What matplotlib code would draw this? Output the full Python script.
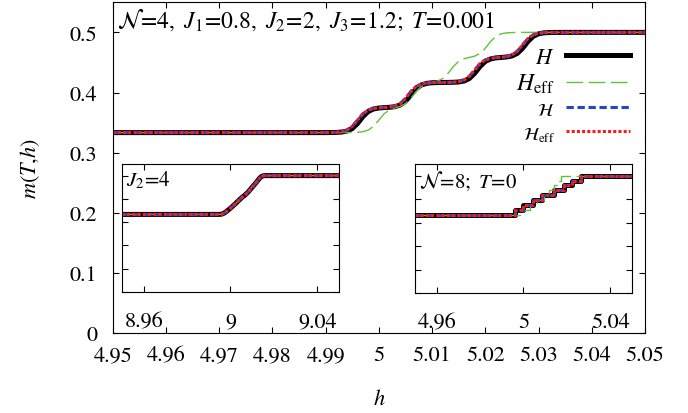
import matplotlib
matplotlib.use("Agg")
import matplotlib.pyplot as plt
from matplotlib.ticker import MultipleLocator, FixedLocator, FormatStrFormatter, NullFormatter

# magnetization curves m(T,h), N=4, J1=0.8, J2=2, J3=1.2, T=0.001
h_main = [4.950,
          4.990, 4.991, 4.992, 4.993, 4.994, 4.995, 4.996, 4.997, 4.998, 4.999,
          5.000, 5.001, 5.002, 5.003, 5.004, 5.005, 5.006, 5.007, 5.008, 5.009,
          5.010, 5.011, 5.012, 5.013, 5.014, 5.015, 5.016, 5.017, 5.018, 5.019,
          5.020, 5.021, 5.022, 5.023, 5.024, 5.025, 5.026, 5.027, 5.028, 5.029,
          5.030, 5.031, 5.032, 5.033, 5.034,
          5.050]
m_H = [0.3333,
       0.3333, 0.3334, 0.3336, 0.3342, 0.3358, 0.3400, 0.3485, 0.3598, 0.3684, 0.3726,
       0.3742, 0.3749, 0.3754, 0.3764, 0.3791, 0.3853, 0.3958, 0.4063, 0.4126, 0.4152,
       0.4162, 0.4165, 0.4167, 0.4168, 0.4170, 0.4175, 0.4191, 0.4233, 0.4319, 0.4431,
       0.4517, 0.4559, 0.4576, 0.4583, 0.4591, 0.4608, 0.4650, 0.4735, 0.4848, 0.4934,
       0.4976, 0.4992, 0.4997, 0.4999, 0.5000,
       0.5000]
m_Heff = [0.3333,
          0.3333, 0.3333, 0.3333, 0.3334, 0.3334, 0.3335, 0.3338, 0.3348, 0.3374, 0.3437,
          0.3542, 0.3647, 0.3712, 0.3744, 0.3769, 0.3815, 0.3902, 0.4015, 0.4101, 0.4145,
          0.4167, 0.4188, 0.4232, 0.4319, 0.4432, 0.4518, 0.4562, 0.4583, 0.4605, 0.4649,
          0.4735, 0.4848, 0.4934, 0.4976, 0.4992, 0.4997, 0.4999, 0.5000, 0.5000, 0.5000,
          0.5000, 0.5000, 0.5000, 0.5000, 0.5000,
          0.5000]
m_calH = [0.3333,
          0.3334, 0.3335, 0.3338, 0.3348, 0.3374, 0.3437, 0.3542, 0.3647, 0.3709, 0.3736,
          0.3746, 0.3751, 0.3758, 0.3774, 0.3816, 0.3902, 0.4015, 0.4100, 0.4142, 0.4158,
          0.4164, 0.4166, 0.4167, 0.4168, 0.4172, 0.4181, 0.4207, 0.4270, 0.4375, 0.4480,
          0.4543, 0.4569, 0.4580, 0.4587, 0.4597, 0.4624, 0.4687, 0.4792, 0.4897, 0.4959,
          0.4986, 0.4995, 0.4998, 0.4999, 0.5000,
          0.5000]
m_calHeff = m_calH

# inset: J2=4 near h=9
h_j2 = [8.950, 8.9950, 8.9960, 8.9970, 8.9980, 9.0000, 9.0020, 9.0040, 9.0055,
        9.0065, 9.0080, 9.0100, 9.0120, 9.0135, 9.0145, 9.0155, 9.050]
m_j2 = [0.3333, 0.3334, 0.3345, 0.3385, 0.3450, 0.3600, 0.3770, 0.3950, 0.4080,
        0.4150, 0.4280, 0.4500, 0.4720, 0.4900, 0.4975, 0.5000, 0.5000]
m_j2_eff = [0.3333, 0.3334, 0.3345, 0.3385, 0.3450, 0.3600, 0.3770, 0.3950, 0.4080,
            0.4150, 0.4290, 0.4520, 0.4760, 0.4950, 0.5000, 0.5000, 0.5000]

# inset: N=8, T=0 staircase (field where each plateau starts)
h_n8 = [4.950, 4.9959, 5.0000, 5.0044, 5.0087, 5.0139, 5.0185, 5.0225, 5.0267, 5.050]
h_n8_eff = [4.950, 4.9998, 5.0030, 5.0062, 5.0093, 5.0118, 5.0140, 5.0158, 5.0175, 5.050]
m_n8 = [0.3333, 0.3542, 0.3750, 0.3958, 0.4167, 0.4375, 0.4583, 0.4792, 0.5000, 0.5000]

BLACK = "#000000"
GREEN = "#5ec43a"
BLUE = "#2845c8"
RED = "#ff1a1a"

plt.rcParams.update({
    "font.family": "STIXGeneral",
    "mathtext.fontset": "stix",
    "font.size": 16,
    "axes.linewidth": 0.8,
    "xtick.direction": "in",
    "ytick.direction": "in",
    "xtick.major.size": 4,
    "ytick.major.size": 4,
    "xtick.major.width": 0.8,
    "ytick.major.width": 0.8,
})


def draw(ax, h, mH, mHeff, mcal, mcaleff, hs=None, step=False):
    ds = "steps-post" if step else "default"
    hs = h if hs is None else hs
    ax.plot(h, mH, color=BLACK, lw=3.6, ds=ds, label=r"$H$")
    ax.plot(hs, mHeff, color=GREEN, lw=1.0, dashes=(12, 4), ds=ds, label=r"$H_{\rm eff}$")
    ax.plot(h, mcal, color=BLUE, lw=2.2, dashes=(2.4, 1.2), ds=ds, label=r"$\mathcal{H}$")
    ax.plot(h, mcaleff, color=RED, lw=2.2, dashes=(1.0, 0.7), ds=ds, label=r"$\mathcal{H}_{\rm eff}$")


fig = plt.figure(figsize=(6.88, 4.14), dpi=100)
ax = fig.add_axes([0.1638, 0.1932, 0.7737, 0.7988])
draw(ax, h_main, m_H, m_Heff, m_calH, m_calHeff)
ax.set_xlim(4.95, 5.05)
ax.set_ylim(0, 0.55)
ax.xaxis.set_major_locator(MultipleLocator(0.01))
ax.yaxis.set_major_locator(MultipleLocator(0.1))
ax.xaxis.set_major_formatter(FormatStrFormatter("%g"))
ax.yaxis.set_major_formatter(FormatStrFormatter("%g"))
ax.tick_params(top=True, right=True)
ax.tick_params(axis="x", pad=9)
ax.tick_params(axis="y", pad=11)
ax.set_xlabel(r"$h$")
ax.set_ylabel(r"$m(T{,}h)$")
ax.yaxis.set_label_coords(-0.133, 0.5)
ax.xaxis.set_label_coords(0.5, -0.17)
ax.text(0.008, 0.99, r"$\mathcal{N}\!=\!4,\ J_1\!=\!0.8,\ J_2\!=\!2,\ J_3\!=\!1.2;\ T\!=\!0.001$",
        transform=ax.transAxes, ha="left", va="top", fontsize=17)

leg = ax.legend(loc="upper right", bbox_to_anchor=(0.972, 0.865), markerfirst=False,
                frameon=False, handlelength=2.9, handletextpad=0.5, labelspacing=0.2,
                borderpad=0, borderaxespad=0)
leg.get_texts()[1].set_fontsize(17)
for t in leg.get_texts()[2:]:
    t.set_fontsize(13)

# insets
ins1 = fig.add_axes([0.1773, 0.2923, 0.3154, 0.3092])
ins2 = fig.add_axes([0.6032, 0.2899, 0.3154, 0.3116])
draw(ins1, h_j2, m_j2, m_j2_eff, m_j2, m_j2)
draw(ins2, h_n8, m_n8, m_n8, m_n8, m_n8, hs=h_n8_eff, step=True)
ins1.set_xlim(8.95, 9.05)
ins1.xaxis.set_major_locator(FixedLocator([8.96, 9.0, 9.04]))
ins2.set_xlim(4.95, 5.05)
ins2.xaxis.set_major_locator(FixedLocator([4.96, 5.0, 5.04]))
for a in (ins1, ins2):
    a.set_ylim(0, 0.55)
    a.yaxis.set_major_locator(MultipleLocator(0.1))
    a.yaxis.set_major_formatter(NullFormatter())
    a.xaxis.set_major_formatter(FormatStrFormatter("%g"))
    a.tick_params(top=True, right=True)
    a.tick_params(axis="x", pad=14)
ins1.text(0.02, 0.96, r"$J_2\!=\!4$", transform=ins1.transAxes, ha="left", va="top", fontsize=15)
ins2.text(0.02, 0.96, r"$\mathcal{N}\!=\!8;\ T\!=\!0$", transform=ins2.transAxes,
          ha="left", va="top", fontsize=15)

fig.savefig("out.png", dpi=100)
